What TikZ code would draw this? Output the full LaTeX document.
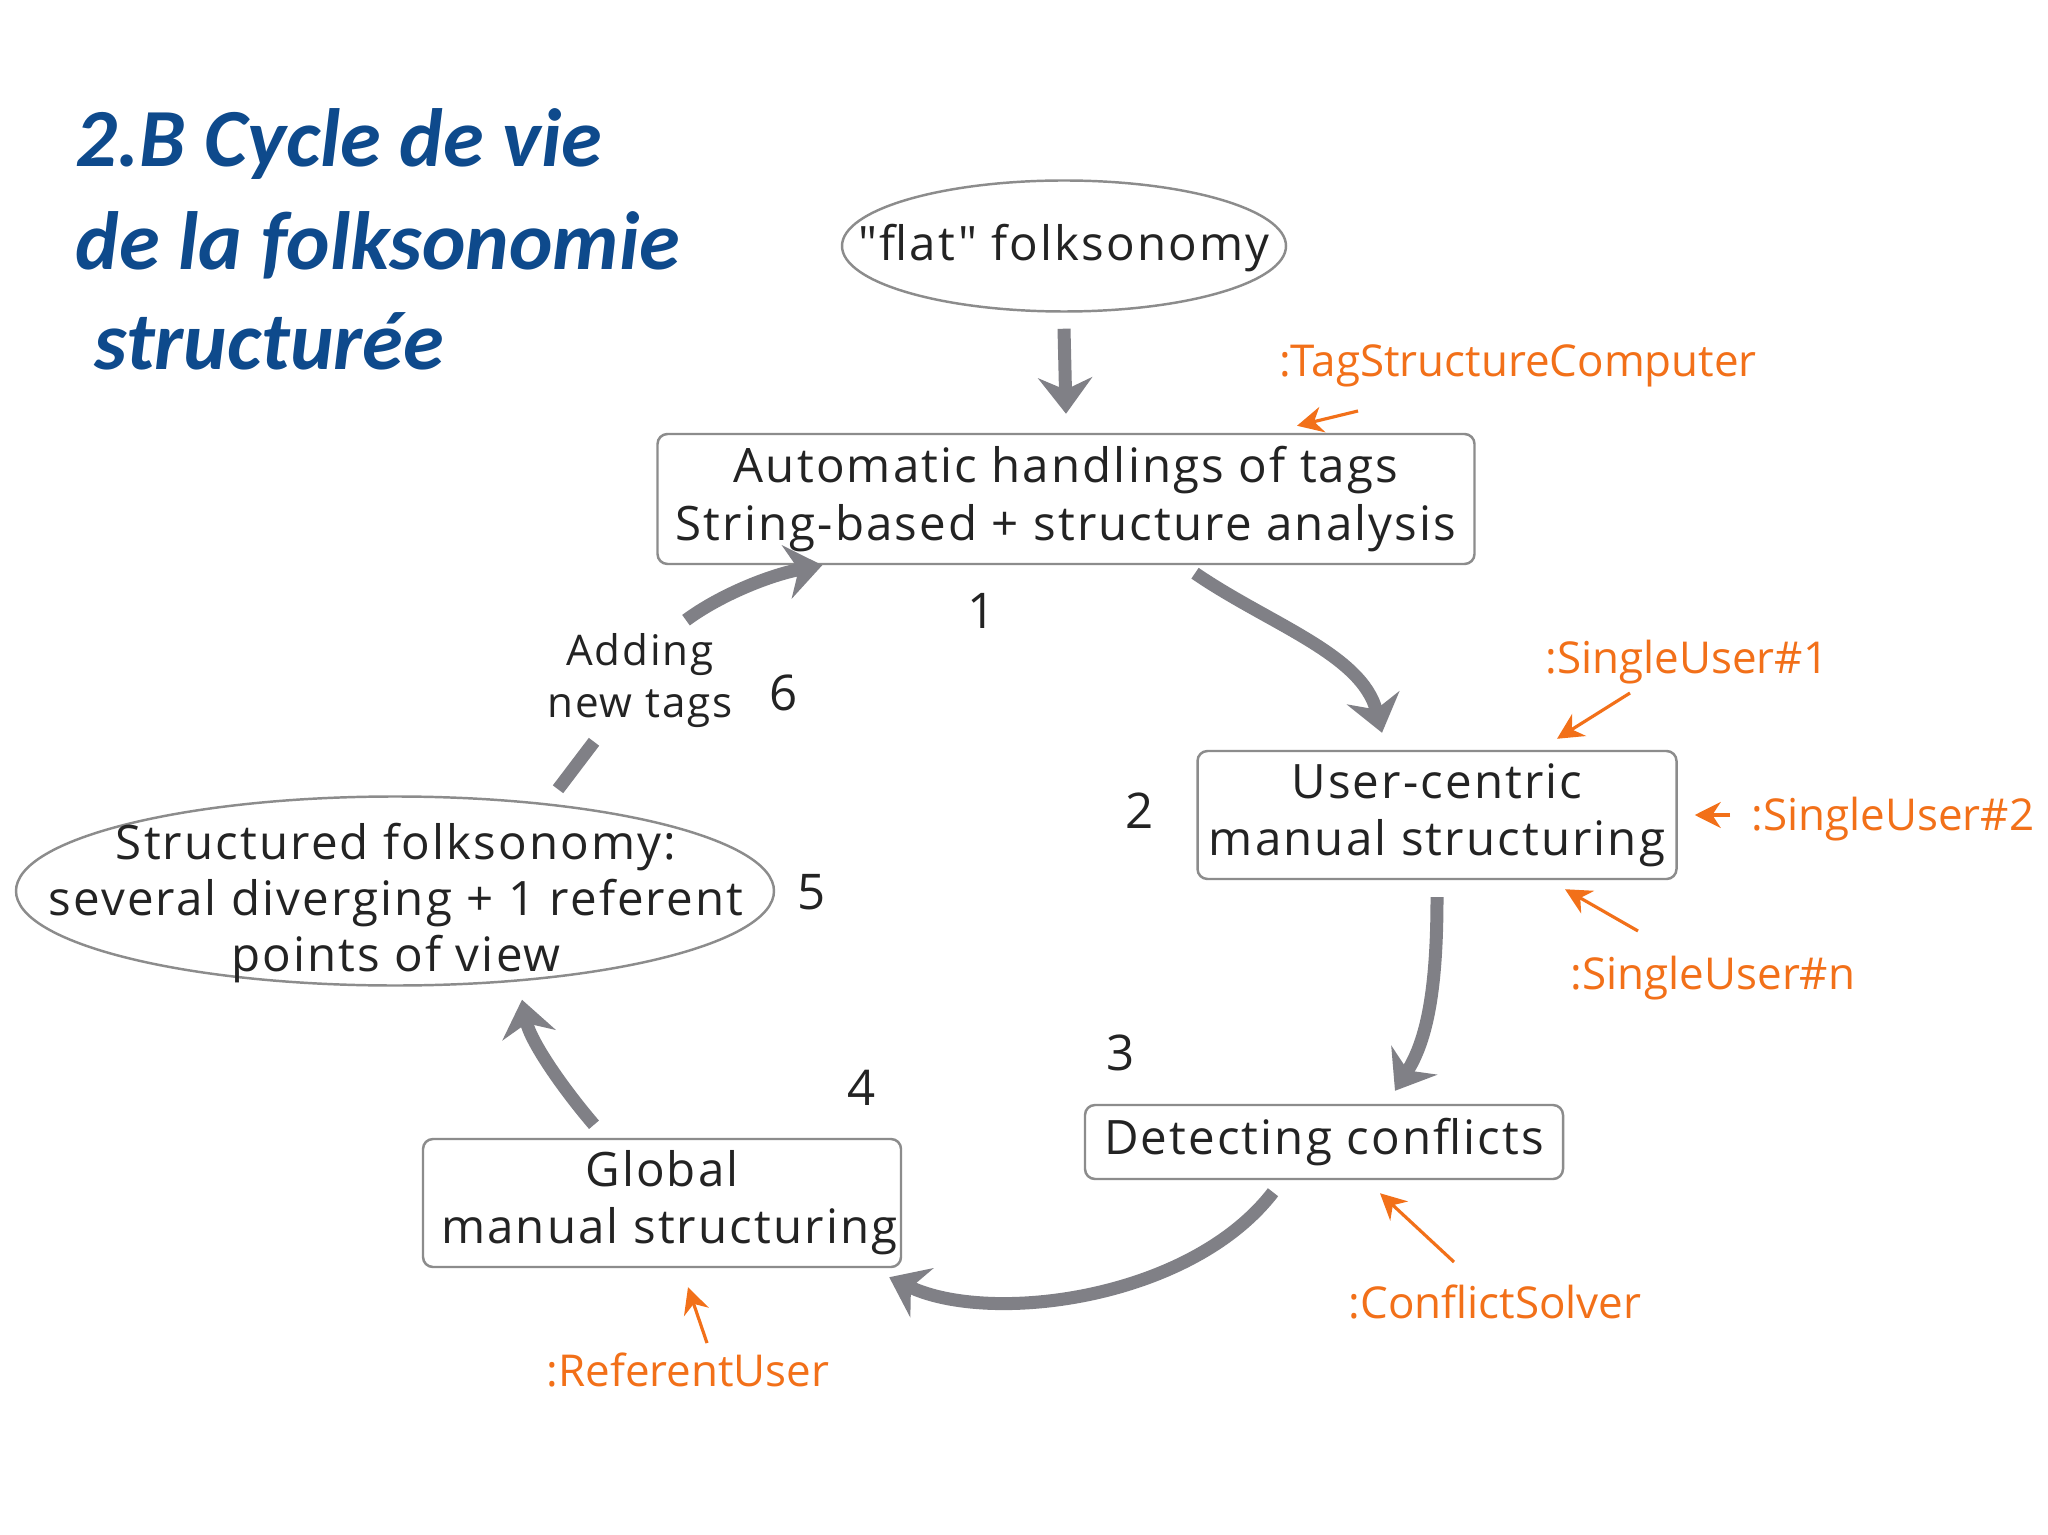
\documentclass[tikz,border=0pt]{standalone}
\usepackage{fontspec}
\setmainfont{Open Sans}[Ligatures=TeXOff, LetterSpace=4.5]
\newfontfamily\rolefont{Open Sans}
\newfontfamily\titlefont{Carlito}
\usetikzlibrary{arrows.meta,positioning,calc,shapes.geometric}
\definecolor{cycgray}{RGB}{128,128,134}
\definecolor{boxgray}{RGB}{140,140,140}
\definecolor{txtgray}{RGB}{35,35,35}
\definecolor{roleorange}{RGB}{242,112,25}
\definecolor{titleblue}{RGB}{14,74,140}

\begin{document}
\begin{tikzpicture}[x=0.1mm,y=-0.1mm,
    stepbox/.style={draw=boxgray, line width=0.7pt, rounded corners=1mm, align=center,
        inner sep=0pt, text=txtgray, font=\fontsize{13.5}{16.3}\selectfont},
    oval/.style={draw=boxgray, line width=0.7pt, ellipse, inner sep=0pt},
    ovaltext/.style={align=center, inner sep=0pt, text=txtgray, font=\fontsize{13.5}{16}\selectfont},
    num/.style={text=txtgray, font=\fontsize{14}{16}\selectfont},
    role/.style={inner sep=0pt, text=roleorange, font=\rolefont\fontsize{12.5}{14}\selectfont},
    titleline/.style={anchor=base west, inner sep=0pt, text=titleblue,
        font=\titlefont\bfseries\itshape\fontsize{23.5}{29}\selectfont},
    cyc/.style={draw=cycgray, line width=1.3mm, -{Stealth[length=3.6mm,width=5.4mm,inset=1.2mm]}},
    cycline/.style={draw=cycgray, line width=1.3mm},
    rolearrow/.style={draw=roleorange, line width=0.9pt, -{Stealth[length=2.6mm,width=2.6mm]}}
]
\useasboundingbox[fill=white] (0,0) rectangle (2048,1535);

% title
\node[titleline] (title1) at (75,167) {2.B Cycle de vie};
\node[titleline] (title2) at (75,270) {de la folksonomie};
\node[titleline] (title3) at (94,370) {structurée};

% states of the cycle
\node[oval, minimum width=44.4mm, minimum height=13.1mm] (flat) at (1064,246) {};
\node[ovaltext] (flat-text) at (1064,248) {"flat" folksonomy};
\node[stepbox, minimum width=81.7mm, minimum height=13mm] (box1) at (1066,499)
    {Automatic handlings of tags\\String-based + structure analysis};
\node[stepbox, minimum width=47.9mm, minimum height=12.8mm] (box2) at (1437,815)
    {User-centric\\manual structuring};
\node[stepbox, minimum width=47.8mm, minimum height=7.4mm] (box3) at (1324,1142)
    {Detecting conflicts};
\node[stepbox, minimum width=47.8mm, minimum height=12.8mm] (box4) at (662,1203)
    {Global\\\ manual structuring};
\node[oval, minimum width=75.8mm, minimum height=18.9mm] (ell5) at (395,891) {};
\node[ovaltext] (ell5-text) at (396,903)
    {Structured folksonomy:\\several diverging + 1 referent\\points of view};
\node[ovaltext, font=\fontsize{12}{14.8}\selectfont] (add) at (640,681) {Adding\\new tags};

% step numbers
\node[num] (n1) at (982,611) {1};
\node[num] (n2) at (1140,811) {2};
\node[num] (n3) at (1121,1053) {3};
\node[num] (n4) at (862,1088) {4};
\node[num] (n5) at (812,892) {5};
\node[num] (n6) at (784,693) {6};

% roles
\node[role] (tsc) at (1518,366) {:TagStructureComputer};
\node[role] (su1) at (1687,662) {:SingleUser\#1};
\node[role] (su2) at (1893,819) {:SingleUser\#2};
\node[role] (sun) at (1713,978) {:SingleUser\#n};
\node[role] (cs) at (1495,1302) {:ConflictSolver};
\node[role] (ru) at (688,1370) {:ReferentUser};
\coordinate (tsc-tail) at (1358,411);
\coordinate (su1-tail) at (1630,693);
\coordinate (su2-tail) at (1730,815);
\coordinate (sun-tail) at (1638,931);
\coordinate (cs-tail) at (1454,1262);
\coordinate (ru-tail) at (707,1343);

% cycle arrows
\draw[cyc] ([yshift=-1.6mm]flat.south) -- ([yshift=1.9mm]box1.north);
\draw[cyc] ([xshift=12.9mm,yshift=-0.8mm]box1.south) .. controls (1269,624) and (1362,654)
    .. ([xshift=-5.5mm,yshift=1.7mm]box2.north);
\draw[cyc] ([yshift=-1.7mm]box2.south) .. controls (1437,990) and (1427,1040)
    .. ([xshift=7.1mm,yshift=1.3mm]box3.north);
\draw[cyc] ([xshift=-5.1mm,yshift=-1.2mm]box3.south) .. controls (1190,1300) and (990,1325)
    .. ([xshift=-1.3mm,yshift=-0.9mm]box4.south east);
\draw[cyc] ([xshift=-6.8mm,yshift=1.3mm]box4.north) .. controls (560,1085) and (530,1040)
    .. ([xshift=12.7mm,yshift=-1.3mm]ell5.south);
\draw[cycline] ([xshift=16.3mm,yshift=0.6mm]ell5.north) -- ([xshift=-4.6mm,yshift=-1.3mm]add.south);
\draw[cyc] ([xshift=4.6mm,yshift=1.3mm]add.north) .. controls (720,595) and (770,575)
    .. ([xshift=16.6mm]box1.south west);

% role arrows
\draw[rolearrow] (tsc-tail) -- ([xshift=23.1mm,yshift=0.7mm]box1.north);
\draw[rolearrow] (su1-tail) -- ([xshift=12mm,yshift=1.1mm]box2.north);
\draw[rolearrow] (su2-tail) -- ([xshift=1.7mm]box2.east);
\draw[rolearrow] (sun-tail) -- ([xshift=12.8mm,yshift=-0.9mm]box2.south);
\draw[rolearrow] (cs-tail) -- ([xshift=5.6mm,yshift=-1.3mm]box3.south);
\draw[rolearrow] (ru-tail) -- ([xshift=2.6mm,yshift=-1.9mm]box4.south);
\end{tikzpicture}
\end{document}
